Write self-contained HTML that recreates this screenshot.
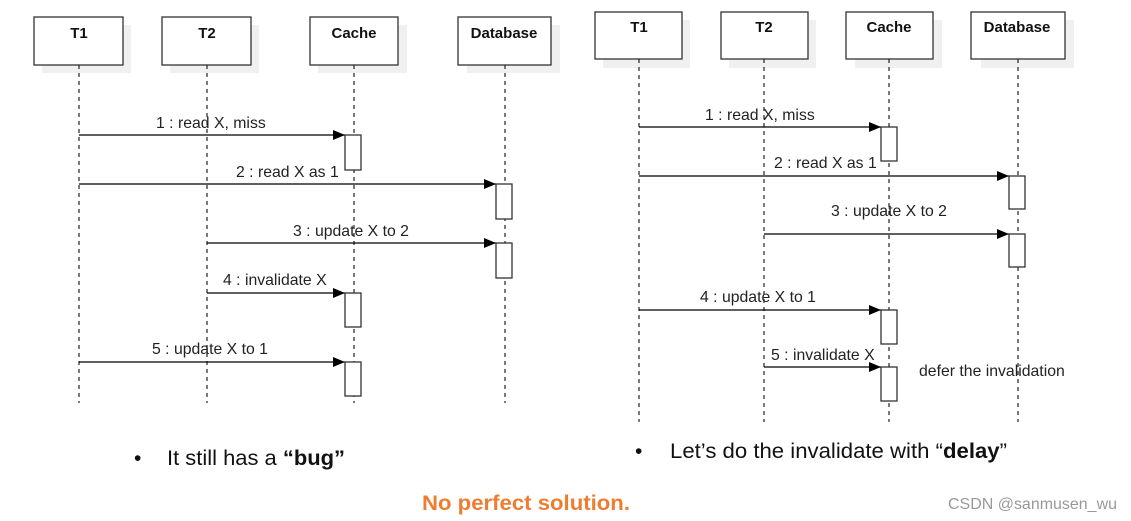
<!DOCTYPE html>
<html><head><meta charset="utf-8"><style>
html,body{margin:0;padding:0;background:#fff;}
svg{display:block}
text{font-family:"Liberation Sans",sans-serif;}
</style></head><body>
<svg width="1131" height="521" viewBox="0 0 1131 521" xmlns="http://www.w3.org/2000/svg">
<defs><marker id="a" markerWidth="12" markerHeight="10" refX="12" refY="5" orient="auto" markerUnits="userSpaceOnUse"><path d="M0,0 L12,5 L0,10 Z" fill="#000"/></marker></defs>
<g fill="#f0f0f0">
<rect x="42" y="25" width="89" height="48"/><rect x="170" y="25" width="89" height="48"/><rect x="318" y="25" width="89" height="48"/><rect x="467" y="25" width="93" height="48"/>
<rect x="603" y="20" width="87" height="48"/><rect x="729" y="20" width="87" height="48"/><rect x="855" y="20" width="87" height="48"/><rect x="981" y="20" width="93" height="48"/>
</g>
<g fill="#fff" stroke="#333" stroke-width="1.3">
<rect x="34" y="17" width="89" height="48"/><rect x="162" y="17" width="89" height="48"/><rect x="310" y="17" width="88" height="48"/><rect x="458" y="17" width="93" height="48"/>
<rect x="595" y="12" width="87" height="47"/><rect x="721" y="12" width="87" height="47"/><rect x="846" y="12" width="87" height="47"/><rect x="971" y="12" width="94" height="47"/>
</g>
<g font-weight="bold" font-size="15" text-anchor="middle" fill="#111">
<text x="79" y="38">T1</text><text x="207" y="38">T2</text><text x="354" y="38">Cache</text><text x="504" y="38">Database</text>
<text x="639" y="32">T1</text><text x="764" y="32">T2</text><text x="889" y="32">Cache</text><text x="1017" y="32">Database</text>
</g>
<g stroke="#222" stroke-width="1.2" stroke-dasharray="4,4">
<line x1="79" y1="65" x2="79" y2="403"/><line x1="207" y1="65" x2="207" y2="403"/><line x1="354" y1="65" x2="354" y2="403"/><line x1="505" y1="65" x2="505" y2="403"/>
<line x1="639" y1="59" x2="639" y2="422"/><line x1="764" y1="59" x2="764" y2="422"/><line x1="889" y1="59" x2="889" y2="422"/><line x1="1018" y1="59" x2="1018" y2="422"/>
</g>
<g stroke="#000" stroke-width="1.3" marker-end="url(#a)">
<line x1="79" y1="135" x2="345" y2="135"/><line x1="79" y1="184" x2="496" y2="184"/><line x1="207" y1="243" x2="496" y2="243"/><line x1="207" y1="293" x2="345" y2="293"/><line x1="79" y1="362" x2="345" y2="362"/>
<line x1="639" y1="127" x2="881" y2="127"/><line x1="639" y1="176" x2="1009" y2="176"/><line x1="764" y1="234" x2="1009" y2="234"/><line x1="639" y1="310" x2="881" y2="310"/><line x1="764" y1="367" x2="881" y2="367"/>
</g>
<g fill="#fff" stroke="#333" stroke-width="1.3">
<rect x="345" y="135" width="16" height="35"/><rect x="496" y="184" width="16" height="35"/><rect x="496" y="243" width="16" height="35"/><rect x="345" y="293" width="16" height="34"/><rect x="345" y="362" width="16" height="34"/>
<rect x="881" y="127" width="16" height="34"/><rect x="1009" y="176" width="16" height="33"/><rect x="1009" y="234" width="16" height="33"/><rect x="881" y="310" width="16" height="34"/><rect x="881" y="367" width="16" height="34"/>
</g>
<g font-size="15.8" fill="#222">
<text x="156" y="128">1 : read X, miss</text><text x="236" y="177">2 : read X as 1</text><text x="293" y="236">3 : update X to 2</text><text x="223" y="285">4 : invalidate X</text><text x="152" y="354">5 : update X to 1</text>
<text x="705" y="120">1 : read X, miss</text><text x="774" y="168">2 : read X as 1</text><text x="831" y="216">3 : update X to 2</text><text x="700" y="302">4 : update X to 1</text><text x="771" y="360">5 : invalidate X</text><text x="919" y="376">defer the invalidation</text>
</g>
<g font-size="21" fill="#111">
<text x="134" y="465">•</text>
<text x="167" y="465" textLength="178" lengthAdjust="spacingAndGlyphs">It still has a <tspan font-weight="bold">“bug”</tspan></text>
<text x="635" y="458">•</text>
<text x="670" y="458" textLength="337" lengthAdjust="spacingAndGlyphs">Let’s do the invalidate with “<tspan font-weight="bold">delay</tspan>”</text>
</g>
<text x="422" y="510" font-size="21" font-weight="bold" fill="#ed7d31" textLength="208" lengthAdjust="spacingAndGlyphs">No perfect solution.</text>
<text x="948" y="509" font-size="16" fill="#999" textLength="169" lengthAdjust="spacingAndGlyphs">CSDN @sanmusen_wu</text>
</svg>
</body></html>
